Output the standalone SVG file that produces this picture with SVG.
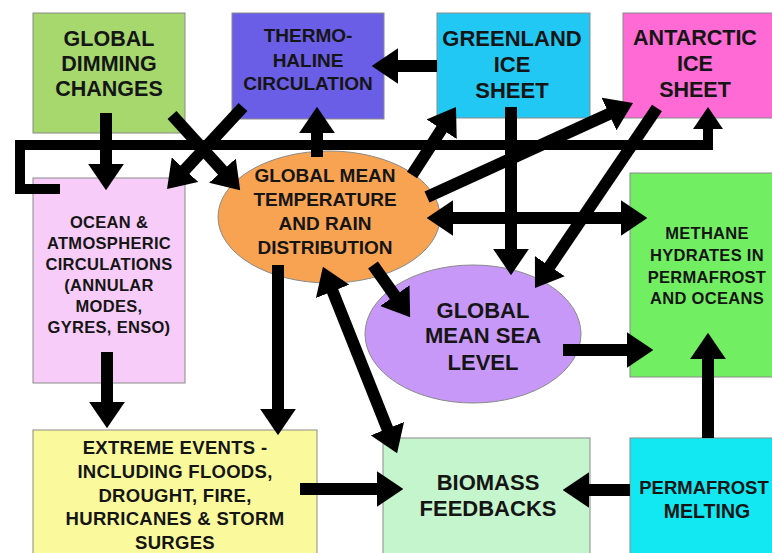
<svg xmlns="http://www.w3.org/2000/svg" width="772" height="553" viewBox="0 0 772 553">
<defs>
<marker id="ah" viewBox="0 0 2.2 3" markerWidth="2.2" markerHeight="3" refX="1.1" refY="1.5" orient="auto-start-reverse" markerUnits="strokeWidth">
<path d="M0,0 L2.2,1.5 L0,3 z" fill="#000"/>
</marker>
</defs>
<style>
.box{stroke:#8a8a8a;stroke-width:1}
text{font-family:"Liberation Sans",Arial,sans-serif;font-weight:bold;fill:#151515;text-anchor:middle;dominant-baseline:central}
.c{fill:none;stroke:#000;stroke-width:12;marker-end:url(#ah)}
.d{marker-start:url(#ah)}
.s{font-size:16.5px;letter-spacing:0.3px}
</style>
<rect width="772" height="553" fill="#fff"/>

<g id="dimming">
<rect class="box" x="33" y="13" width="152" height="120" fill="#a6d86e"/>
<text x="109" y="39" font-size="21.5">GLOBAL</text>
<text x="109" y="64" font-size="21.5">DIMMING</text>
<text x="109" y="89" font-size="21.5">CHANGES</text>
</g>
<g id="thermohaline">
<rect class="box" x="232" y="13" width="152" height="106" fill="#6a5ee6"/>
<text x="308" y="35" font-size="19">THERMO-</text>
<text x="308" y="60" font-size="19">HALINE</text>
<text x="308" y="83" font-size="19">CIRCULATION</text>
</g>
<g id="greenland">
<rect class="box" x="437" y="13" width="153" height="105" fill="#22c8f4"/>
<text x="512" y="38" font-size="22">GREENLAND</text>
<text x="512" y="64" font-size="22">ICE</text>
<text x="512" y="90" font-size="22">SHEET</text>
</g>
<g id="antarctic">
<rect class="box" x="623" y="13" width="152" height="105" fill="#ff6ad4"/>
<text x="695" y="38" font-size="21.5">ANTARCTIC</text>
<text x="695" y="64" font-size="21.5">ICE</text>
<text x="695" y="90" font-size="21.5">SHEET</text>
</g>
<g id="ocean">
<rect class="box" x="33" y="178" width="152" height="205" fill="#f8ccf8"/>
<text class="s" x="109" y="222">OCEAN &amp;</text>
<text class="s" x="109" y="243">ATMOSPHERIC</text>
<text class="s" x="109" y="264">CIRCULATIONS</text>
<text class="s" x="109" y="285">(ANNULAR</text>
<text class="s" x="109" y="306">MODES,</text>
<text class="s" x="109" y="327">GYRES, ENSO)</text>
</g>
<g id="gmt">
<ellipse class="box" cx="329" cy="217" rx="111" ry="66" fill="#f8a352"/>
<text x="325" y="175" font-size="19">GLOBAL MEAN</text>
<text x="325" y="199" font-size="19">TEMPERATURE</text>
<text x="325" y="223" font-size="19">AND RAIN</text>
<text x="325" y="247" font-size="19">DISTRIBUTION</text>
</g>
<g id="gmsl">
<ellipse class="box" cx="473" cy="334" rx="108" ry="69" fill="#c898f8"/>
<text x="483" y="310" font-size="22">GLOBAL</text>
<text x="483" y="335" font-size="22">MEAN SEA</text>
<text x="483" y="362" font-size="22">LEVEL</text>
</g>
<g id="methane">
<rect class="box" x="630" y="173" width="145" height="204" fill="#72ee62"/>
<text class="s" x="707" y="233">METHANE</text>
<text class="s" x="707" y="255">HYDRATES IN</text>
<text class="s" x="707" y="277">PERMAFROST</text>
<text class="s" x="707" y="298">AND OCEANS</text>
</g>
<g id="extreme">
<rect class="box" x="33" y="430" width="284" height="130" fill="#fafa9c"/>
<g font-size="18.5" letter-spacing="0.3">
<text x="175" y="447">EXTREME EVENTS -</text>
<text x="175" y="471">INCLUDING FLOODS,</text>
<text x="175" y="495">DROUGHT, FIRE,</text>
<text x="175" y="518">HURRICANES &amp; STORM</text>
<text x="175" y="542">SURGES</text>
</g>
</g>
<g id="biomass">
<rect class="box" x="383" y="438" width="207" height="122" fill="#c4f5cc"/>
<text x="488" y="482" font-size="22">BIOMASS</text>
<text x="488" y="508" font-size="22">FEEDBACKS</text>
</g>
<g id="permafrost">
<rect class="box" x="630" y="438" width="145" height="122" fill="#12e8f2"/>
<text x="704" y="487" font-size="18.5">PERMAFROST</text>
<text x="707" y="511" font-size="19.5">MELTING</text>
</g>

<g id="connectors">
<path class="c" style="stroke-width:10" d="M60,189 H20 V145 H708 V118"/>
<path class="c" d="M106,113 V177"/>
<path class="c" d="M172,115 L231.3,180.4"/>
<path class="c" d="M243,107 L176,179.3"/>
<path class="c" d="M317,157 V120"/>
<path class="c" d="M437,66 H385"/>
<path class="c" d="M412,175 L448.8,118.1"/>
<path class="c" d="M427,197 L621,108.5"/>
<path class="c" d="M657,108 L542.4,277.1"/>
<path class="c" d="M511,107 V262"/>
<path class="c d" d="M440,218 H634"/>
<path class="c" d="M373,265 L402.5,306.4"/>
<path class="c" d="M563,350 H640"/>
<path class="c" d="M708,438 V346"/>
<path class="c" d="M630,490 H576"/>
<path class="c" d="M300,489 H390"/>
<path class="c d" d="M327.8,279.1 L392.2,440.9"/>
<path class="c" d="M278,265 V422"/>
<path class="c" d="M107,352 V415"/>
</g>
</svg>
